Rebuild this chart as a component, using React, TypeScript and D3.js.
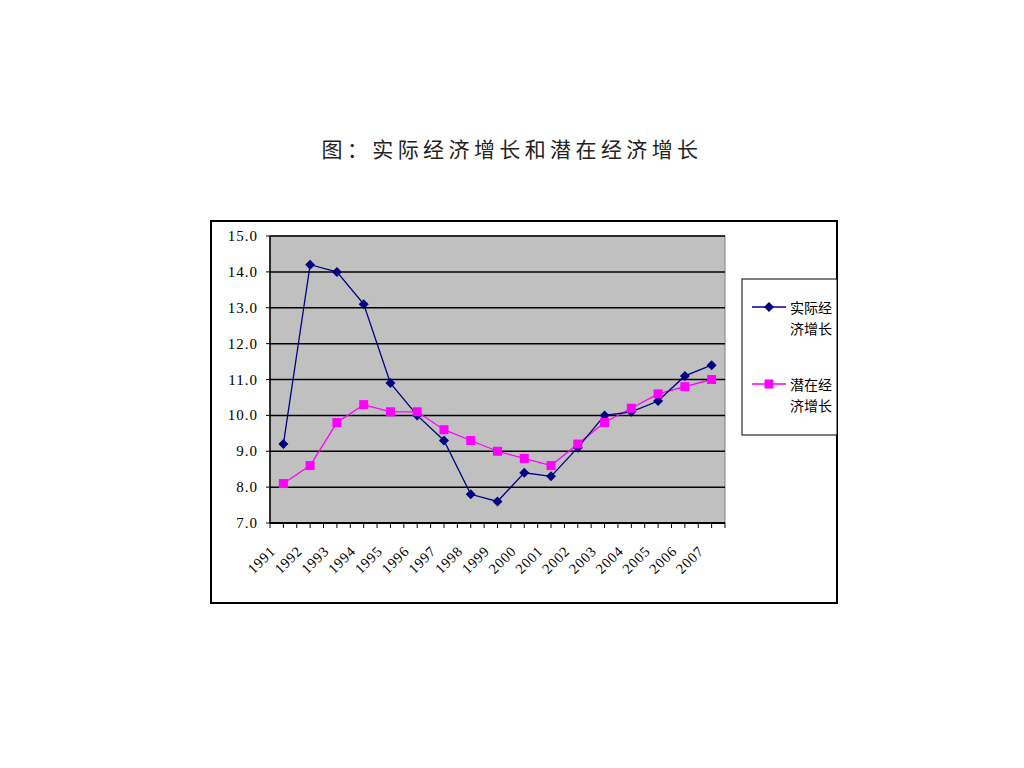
import React from "react";
import * as d3 from "d3";

const years = ["1991","1992","1993","1994","1995","1996","1997","1998","1999","2000","2001","2002","2003","2004","2005","2006","2007"];
const actualGrowth = [9.2,14.2,14.0,13.1,10.9,10.0,9.3,7.8,7.6,8.4,8.3,9.1,10.0,10.1,10.4,11.1,11.4];
const potentialGrowth = [8.1,8.6,9.8,10.3,10.1,10.1,9.6,9.3,9.0,8.8,8.6,9.2,9.8,10.2,10.6,10.8,11.0];
const yTicks = [7,8,9,10,11,12,13,14,15];
const seriesNames = ["实际经济增长", "潜在经济增长"];
const seriesLegendLines = [["实际经", "济增长"], ["潜在经", "济增长"]];
const title = "图：实际经济增长和潜在经济增长";

export default function App() {
  const W = 1024, H = 768;
  const plot = { left: 270, right: 725, top: 236, bottom: 523 };
  const x = d3.scaleBand<string>().domain(years).range([plot.left, plot.right]).paddingInner(0).paddingOuter(0);
  const y = d3.scaleLinear().domain([7, 15]).range([plot.bottom, plot.top]);
  const cx = (yr: string) => (x(yr) as number) + x.bandwidth() / 2;
  const line = d3.line<number>().x((_, i) => cx(years[i])).y(d => y(d));
  const numFont = "'Liberation Serif', 'DejaVu Serif', serif";
  const cjkFont = "'Noto Sans CJK SC', sans-serif";
  const halfTicks: number[] = [];
  years.forEach(yr => { halfTicks.push(x(yr) as number); halfTicks.push(cx(yr)); });
  halfTicks.push(plot.right);
  const diamond = (px: number, py: number, r: number) => `M${px},${py - r}L${px + r},${py}L${px},${py + r}L${px - r},${py}Z`;

  return (
    <svg width={W} height={H} style={{ position: "absolute", left: 0, top: 0 }}>
      <rect x={0} y={0} width={W} height={H} fill="#fff" />
      <text x={512} y={157} textAnchor="middle" fontFamily={cjkFont} fontSize={21} letterSpacing={4.4} fill="#222">{title}</text>
      <rect x={211} y={221} width={626} height={382} fill="#fff" stroke="#000" strokeWidth={2} />
      <rect x={plot.left} y={plot.top} width={plot.right - plot.left} height={plot.bottom - plot.top} fill="#C0C0C0" stroke="#808080" strokeWidth={1} />
      {yTicks.map(t => (
        <g key={t}>
          <line x1={plot.left} x2={plot.right} y1={y(t)} y2={y(t)} stroke="#000" strokeWidth={1.5} />
          <line x1={plot.left - 4} x2={plot.left} y1={y(t)} y2={y(t)} stroke="#000" strokeWidth={1} />
          <text x={258} y={y(t) + 5} textAnchor="end" fontFamily={numFont} fontSize={15} letterSpacing={1} fill="#000">{t.toFixed(1)}</text>
        </g>
      ))}
      <line x1={plot.left} x2={plot.left} y1={plot.top} y2={plot.bottom} stroke="#000" strokeWidth={1.5} />
      <line x1={plot.left} x2={plot.right} y1={plot.bottom} y2={plot.bottom} stroke="#000" strokeWidth={2} />
      {halfTicks.map((t, i) => (
        <line key={i} x1={t} x2={t} y1={plot.bottom} y2={plot.bottom + 5} stroke="#000" strokeWidth={1} />
      ))}
      {years.map(yr => (
        <text key={yr} transform={`translate(${cx(yr) - 7},${plot.bottom + 29}) rotate(-45)`} textAnchor="end" fontFamily={numFont} fontSize={14.5} letterSpacing={0.8} fill="#000">{yr}</text>
      ))}
      <path d={line(potentialGrowth) || ""} fill="none" stroke="#FF00FF" strokeWidth={1.3} />
      <path d={line(actualGrowth) || ""} fill="none" stroke="#000080" strokeWidth={1.3} />
      {actualGrowth.map((v, i) => (
        <path key={"a" + i} d={diamond(cx(years[i]), y(v), 5)} fill="#000080" />
      ))}
      {potentialGrowth.map((v, i) => (
        <rect key={"p" + i} x={cx(years[i]) - 4.5} y={y(v) - 4.5} width={9} height={9} fill="#FF00FF" />
      ))}
      <rect x={742} y={279} width={95} height={156} fill="#fff" stroke="#000" strokeWidth={1} />
      {seriesNames.map((name, i) => {
        const ly = 307 + i * 77;
        const color = i === 0 ? "#000080" : "#FF00FF";
        return (
          <g key={name}>
            <line x1={752} x2={786} y1={ly} y2={ly} stroke={color} strokeWidth={1.3} />
            {i === 0 ? <path d={diamond(769, ly, 5)} fill={color} /> : <rect x={764.5} y={ly - 4.5} width={9} height={9} fill={color} />}
            {seriesLegendLines[i].map((t, j) => (
              <text key={j} x={790} y={ly + 6 + j * 21} fontFamily={cjkFont} fontSize={14} fill="#000">{t}</text>
            ))}
          </g>
        );
      })}
    </svg>
  );
}
